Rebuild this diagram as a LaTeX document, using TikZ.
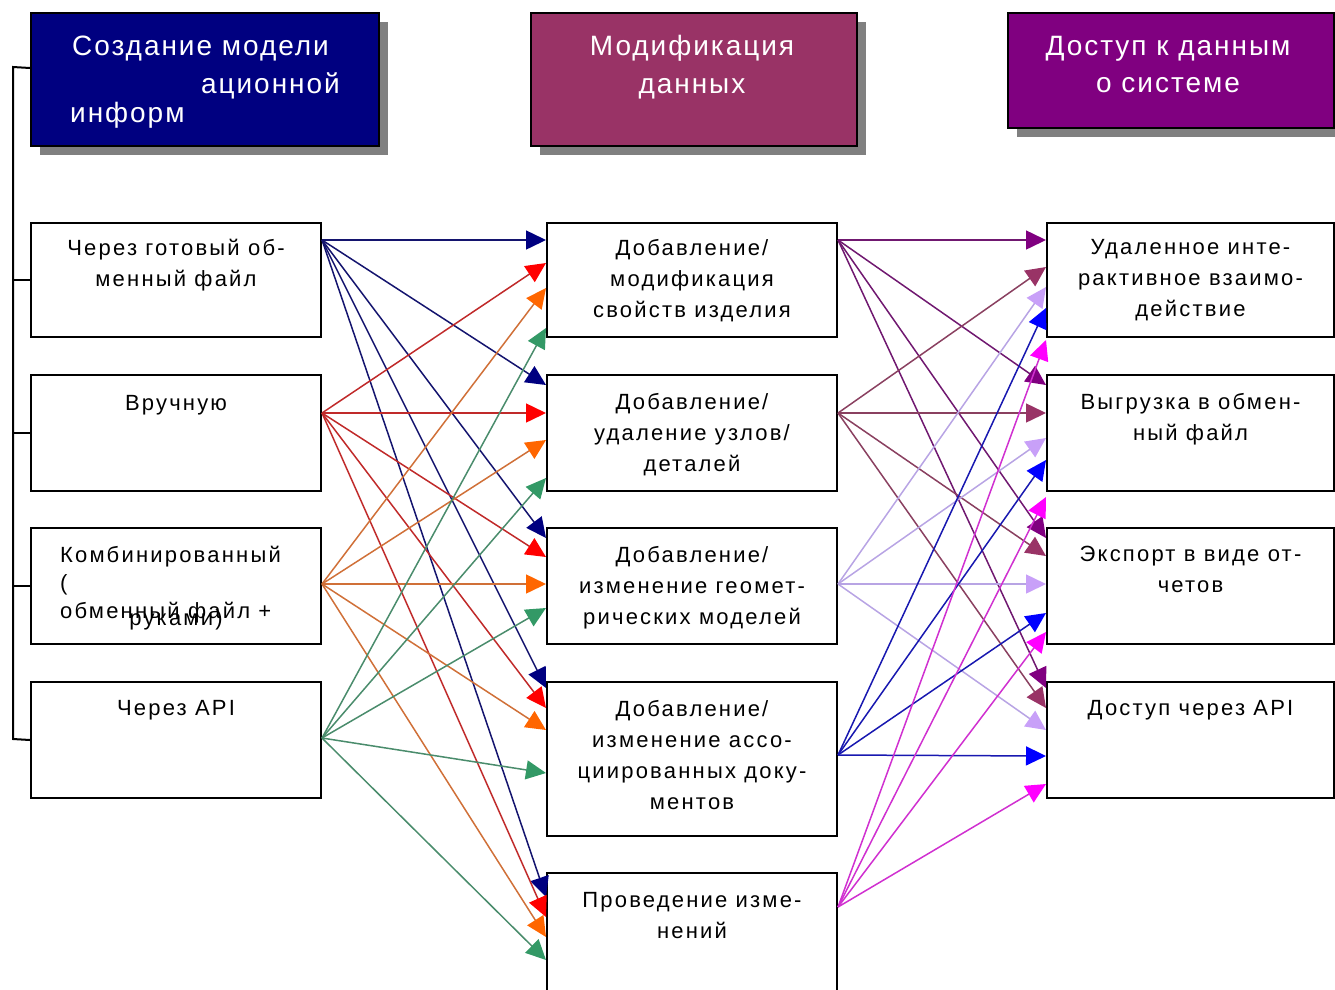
\documentclass[tikz,border=0pt]{standalone}
\usepackage{fontspec}
\setmainfont{Liberation Sans}
\newfontfamily\boxfont[LetterSpace=10]{Liberation Sans}
\newfontfamily\headfont[LetterSpace=7]{Liberation Sans}
\usetikzlibrary{arrows.meta}
\definecolor{hnavy}{HTML}{000080}
\definecolor{hplum}{HTML}{993366}
\definecolor{hpurple}{HTML}{800080}
\definecolor{shadowgray}{HTML}{808080}
\definecolor{navyL}{HTML}{14146E}\definecolor{navyH}{HTML}{000080}
\definecolor{redL}{HTML}{C02A2A}\definecolor{redH}{HTML}{FF0000}
\definecolor{orangeL}{HTML}{D07038}\definecolor{orangeH}{HTML}{FF6600}
\definecolor{greenL}{HTML}{4A8C6C}\definecolor{greenH}{HTML}{339966}
\definecolor{purpL}{HTML}{701870}\definecolor{purpH}{HTML}{800080}
\definecolor{plumL}{HTML}{8A4060}\definecolor{plumH}{HTML}{993366}
\definecolor{lavL}{HTML}{B8A4E4}\definecolor{lavH}{HTML}{C8A0F8}
\definecolor{blueL}{HTML}{1818B0}\definecolor{blueH}{HTML}{0000FF}
\definecolor{magL}{HTML}{D030D0}\definecolor{magH}{HTML}{FF00FF}
\begin{document}
\begin{tikzpicture}[x=1pt,y=-1pt,
  box/.style={draw=black, line width=2pt, fill=white, anchor=north west, inner sep=0pt, minimum width=290pt},
  hdr/.style={draw=black, line width=2pt, anchor=north west, inner sep=0pt},
  shd/.style={fill=shadowgray},
  btxt/.style={anchor=north, align=center, inner sep=0pt, font=\boxfont\fontsize{22}{31}\selectfont},
  htxt/.style={text=white, inner sep=0pt, font=\headfont\fontsize{28}{37}\selectfont},
  conn/.style={line width=1.5pt},
  tip/.style={-{Triangle[length=20pt,width=19pt,color=#1]}},
  cnavy/.style={conn, draw=navyL, tip=navyH},
  cred/.style={conn, draw=redL, tip=redH},
  corange/.style={conn, draw=orangeL, tip=orangeH},
  cgreen/.style={conn, draw=greenL, tip=greenH},
  cpurp/.style={conn, draw=purpL, tip=purpH},
  cplum/.style={conn, draw=plumL, tip=plumH},
  clav/.style={conn, draw=lavL, tip=lavH},
  cblue/.style={conn, draw=blueL, tip=blueH},
  cmag/.style={conn, draw=magL, tip=magH},
  bracket/.style={draw=black, line width=2pt}
]
\useasboundingbox (0,0) rectangle (1335,989);

% header shadows and boxes
\fill[shd] (40,22) rectangle (388,155);
\fill[shd] (540,22) rectangle (866,155);
\fill[shd] (1017,22) rectangle (1343,137);
\node[hdr, fill=hnavy, minimum width=348pt, minimum height=133pt] (h1) at (30,12) {};
\node[hdr, fill=hplum, minimum width=326pt, minimum height=133pt] (h2) at (530,12) {};
\node[hdr, fill=hpurple, minimum width=326pt, minimum height=115pt] (h3) at (1007,12) {};
\node[htxt, anchor=base west] (h1a) at (72,55) {Создание модели};
\node[htxt, anchor=base east] (h1b) at (340,93) {ационной};
\node[htxt, anchor=base west] (h1c) at (70,122) {информ};
\node[htxt, anchor=base] (h2a) at (692,55) {Модификация};
\node[htxt, anchor=base] (h2b) at (692,93) {данных};
\node[htxt, anchor=base] (h3a) at (1168,55) {Доступ к данным};
\node[htxt, anchor=base] (h3b) at (1168,92) {о системе};

% left boxes
\node[box, minimum height=114pt] (l1) at (30,222) {};
\node[box, minimum height=116pt] (l2) at (30,374) {};
\node[box, minimum height=116pt] (l3) at (30,527) {};
\node[box, minimum height=116pt] (l4) at (30,681) {};
% middle boxes
\node[box, minimum height=114pt] (m1) at (546,222) {};
\node[box, minimum height=116pt] (m2) at (546,374) {};
\node[box, minimum height=116pt] (m3) at (546,527) {};
\node[box, minimum height=154pt] (m4) at (546,681) {};
\node[box, minimum height=130pt] (m5) at (546,872) {};
% right boxes
\node[box, minimum width=287pt, minimum height=114pt] (r1) at (1046,222) {};
\node[box, minimum width=287pt, minimum height=116pt] (r2) at (1046,374) {};
\node[box, minimum width=287pt, minimum height=116pt] (r3) at (1046,527) {};
\node[box, minimum width=287pt, minimum height=116pt] (r4) at (1046,681) {};

% texts
\node[btxt] (l1t) at ([yshift=-17pt]l1.north) {Через готовый об-\\менный файл};
\node[btxt] (l2t) at ([yshift=-21pt]l2.north) {Вручную};
\node[btxt, anchor=north west, align=left, font=\boxfont\fontsize{22}{28}\selectfont] (l3t) at ([xshift=30pt,yshift=-19pt]l3.north west) {Комбинированный\\(\\обменный файл +};
\node[btxt] (l3u) at ([yshift=-82pt]l3.north) {руками)};
\node[btxt] (l4t) at ([yshift=-19pt]l4.north) {Через API};
\node[btxt] (m1t) at ([yshift=-17pt]m1.north) {Добавление/\\модификация\\свойств изделия};
\node[btxt] (m2t) at ([yshift=-19pt]m2.north) {Добавление/\\удаление узлов/\\деталей};
\node[btxt] (m3t) at ([yshift=-19pt]m3.north) {Добавление/\\изменение геомет-\\рических моделей};
\node[btxt] (m4t) at ([yshift=-19pt]m4.north) {Добавление/\\изменение ассо-\\циированных доку-\\ментов};
\node[btxt] (m5t) at ([yshift=-20pt]m5.north) {Проведение изме-\\нений};
\node[btxt] (r1t) at ([yshift=-17pt]r1.north) {Удаленное инте-\\рактивное взаимо-\\действие};
\node[btxt] (r2t) at ([yshift=-19pt]r2.north) {Выгрузка в обмен-\\ный файл};
\node[btxt] (r3t) at ([yshift=-19pt]r3.north) {Экспорт в виде от-\\четов};
\node[btxt] (r4t) at ([yshift=-19pt]r4.north) {Доступ через API};

% bracket on the left
\coordinate (brtop) at (13,67);
\coordinate (brbot) at (13,739);
\draw[bracket] ([yshift=11.5pt]h1.west) -- (brtop) -- (brbot) -- (l4.west);
\draw[bracket] (l1.west) -- (l1.west -| brtop);
\draw[bracket] (l2.west) -- (l2.west -| brtop);
\draw[bracket] (l3.west) -- (l3.west -| brtop);
% small ticks on the right edge
\foreach \r in {r1,r2,r3,r4} \draw[line width=1.5pt] (\r.east) -- ++(4,0);

% sources
\coordinate (sl1) at ([yshift=-18pt]l1.north east);
\coordinate (sl2) at ([yshift=-39pt]l2.north east);
\coordinate (sl3) at ([yshift=-57pt]l3.north east);
\coordinate (sl4) at ([yshift=-57pt]l4.north east);
\coordinate (sm1) at ([yshift=-18pt]m1.north east);
\coordinate (sm2) at ([yshift=-39pt]m2.north east);
\coordinate (sm3) at ([yshift=-57pt]m3.north east);
\coordinate (sm4) at ([yshift=-74pt]m4.north east);
\coordinate (sm5) at ([yshift=-35pt]m5.north east);

% left -> middle
\foreach \m/\o in {m1/18pt,m2/11pt,m3/11pt,m4/7pt,m5/25pt} \draw[cnavy] (sl1) -- ([yshift=-\o]\m.north west);
\foreach \m/\o in {m1/41pt,m2/39pt,m3/30pt,m4/27pt,m5/45pt} \draw[cred] (sl2) -- ([yshift=-\o]\m.north west);
\foreach \m/\o in {m1/66pt,m2/66pt,m3/57pt,m4/49pt,m5/65pt} \draw[corange] (sl3) -- ([yshift=-\o]\m.north west);
\foreach \m/\o in {m1/106pt,m2/104pt,m3/81pt,m4/92pt,m5/88pt} \draw[cgreen] (sl4) -- ([yshift=-\o]\m.north west);

% middle -> right
\foreach \r/\o in {r1/18pt,r2/11pt,r3/11pt,r4/7pt} \draw[cpurp] (sm1) -- ([yshift=-\o]\r.north west);
\foreach \r/\o in {r1/45pt,r2/39pt,r3/29pt,r4/27pt} \draw[cplum] (sm2) -- ([yshift=-\o]\r.north west);
\foreach \r/\o in {r1/65pt,r2/64pt,r3/57pt,r4/49pt} \draw[clav] (sm3) -- ([yshift=-\o]\r.north west);
\foreach \r/\o in {r1/86pt,r2/86pt,r3/86pt,r4/75pt} \draw[cblue] (sm4) -- ([yshift=-\o]\r.north west);
\foreach \r/\o in {r1/118pt,r2/123pt,r3/105pt,r4/103pt} \draw[cmag] (sm5) -- ([yshift=-\o]\r.north west);
\end{tikzpicture}
\end{document}
